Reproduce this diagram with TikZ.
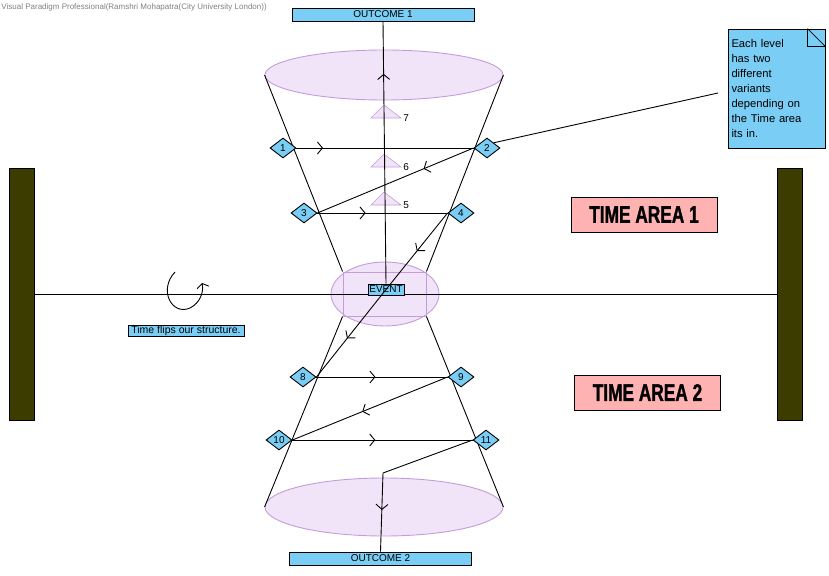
\documentclass[tikz,border=0pt]{standalone}
\usepackage{fontspec}
\setmainfont{Liberation Sans}
\newfontfamily\areafont[FakeStretch=0.72, BoldFeatures={FakeBold=1.2}]{Liberation Sans}
\usepackage{tikz}
\usetikzlibrary{shapes.geometric, arrows.meta, decorations.markings}
\definecolor{vpblue}{RGB}{122,206,245}
\definecolor{conefill}{RGB}{242,228,248}
\definecolor{conedge}{RGB}{196,156,218}
\definecolor{areapink}{RGB}{255,178,178}
\definecolor{barolive}{RGB}{60,60,0}
\tikzstyle{outcome} = [rectangle, draw=black, fill=vpblue, minimum width=182pt, minimum height=13pt, inner sep=0pt, font=\fontsize{10}{11}\selectfont]
\tikzstyle{level} = [diamond, draw=black, fill=vpblue, minimum width=26pt, minimum height=20pt, inner sep=0pt, font=\fontsize{10}{11}\selectfont]
\tikzstyle{cone} = [ellipse, draw=conedge, fill=conefill, inner sep=0pt]
\tikzstyle{tag} = [rectangle, draw=black, fill=vpblue, inner sep=0pt, font=\fontsize{10}{11}\selectfont]
\tikzstyle{area} = [rectangle, draw=black, fill=areapink, minimum width=146pt, minimum height=35pt, font=\areafont\bfseries\fontsize{24}{26}\selectfont]
\tikzstyle{bar} = [rectangle, draw=black, fill=barolive, minimum width=25pt, minimum height=252pt]
\tikzstyle{stage} = [draw=conedge, fill=conefill]
\tikzstyle{notebox} = [rectangle, draw=black, fill=vpblue, minimum width=97pt, minimum height=119pt, text width=90pt, align=left, inner sep=2pt, font=\fontsize{11.2}{15}\selectfont]
\tikzset{flow/.style={postaction={decorate}, decoration={markings, mark=at position #1 with {\arrow{Straight Barb[length=5pt,width=12pt]}}}}, flow/.default=0.5}

\begin{document}
\begin{tikzpicture}[x=1pt, y=-1pt, line width=0.9pt]
\useasboundingbox (0,0) rectangle (829,575);

\node (hdr) [anchor=west, text=gray, inner sep=0pt, font=\fontsize{8}{9}\selectfont] at (1,7) {Visual Paradigm Professional(Ramshri Mohapatra(City University London))};

\node (top) [cone, minimum width=238pt, minimum height=50pt] at (384,75) {};
\node (bot) [cone, minimum width=238pt, minimum height=58pt] at (384,507) {};
\node (evell) [cone, minimum width=108pt, minimum height=64pt] at (385,294) {};
\node (evbox) [draw=conedge, minimum width=83pt, minimum height=44pt] at (384.5,294) {};

\node (out1) [outcome] at (383,14.5) {OUTCOME 1};
\node (out2) [outcome] at (380.5,558.5) {OUTCOME 2};

\node (past) [bar] at (21.5,294) {};
\node (future) [bar] at (790,294) {};

\draw (past) -- (future);

\draw (top.west) -- (evbox.north west);
\draw (top.east) -- (evbox.north east);
\draw (evbox.south west) -- (bot.west);
\draw (evbox.south east) -- (bot.east);

\foreach \y/\n in {118/7, 167/6, 205/5} {
  \draw [stage, line width=0.6pt] (371,\y) -- (384,\y-13) -- (401,\y) -- cycle;
  \node [anchor=west, inner sep=0pt, font=\fontsize{10}{11}\selectfont] at (403,\y) {\n};
}

\node (ev) [tag, minimum width=36pt, minimum height=11pt] at (386,289.5) {EVENT};

\node (d1) [level] at (283,148) {1};
\node (d2) [level] at (487,148) {2};
\node (d3) [level] at (304,213) {3};
\node (d4) [level] at (461,213) {4};
\node (d8) [level] at (303,377) {8};
\node (d9) [level] at (461,377) {9};
\node (d10) [level] at (279,440) {10};
\node (d11) [level] at (486,440) {11};

\draw [flow=0.8] (ev.north) -- (out1.south);
\draw [flow=0.15] (d1.east) -- (d2.west);
\draw [flow=0.32] (d2.west) -- (d3.east);
\draw [flow=0.37] (d3.east) -- (d4.west);
\draw [flow=0.5] (d4.west) -- (ev.center);
\draw [flow=0.56] (ev.center) -- (d8.east);
\draw [flow=0.45] (d8.east) -- (d9.west);
\draw [flow=0.55] (d9.west) -- (d10.east);
\draw [flow=0.46] (d10.east) -- (d11.west);
\coordinate (bend) at (383,473);
\draw (d11.west) -- (bend);
\draw [flow=0.47] (bend) -- (out2.north);

\node (area1) [area] at (644,214.5) {TIME AREA 1};
\node (area2) [area] at (647.5,392.5) {TIME AREA 2};

\coordinate (spin) at (175,272);
\coordinate (spinend) at (202,283);
\draw [-{Straight Barb[length=4pt,width=12pt]}] (spin) .. controls (158,290) and (172,316) .. (190,308) .. controls (200,303) and (204,292) .. (spinend);
\node (flip) [tag, minimum width=116pt, minimum height=11pt, font=\fontsize{10.5}{11}\selectfont] at (186,330.5) {Time flips our structure.};

\node (note) [notebox] at (776.5,88.5) {Each level\\has two\\different\\variants\\depending on\\the Time area\\its in.};
\fill [white] ([xshift=-18pt]note.north east) rectangle ([xshift=1pt,yshift=1pt]note.north east);
\draw [line width=0.7pt] ([xshift=-18pt]note.north east) -- ([yshift=-18pt]note.north east);
\draw [line width=0.7pt] ([xshift=-18pt]note.north east) |- ([yshift=-18pt]note.north east);
\coordinate (pin) at (718,93);
\draw (d2.north east) -- (pin);

\end{tikzpicture}
\end{document}
